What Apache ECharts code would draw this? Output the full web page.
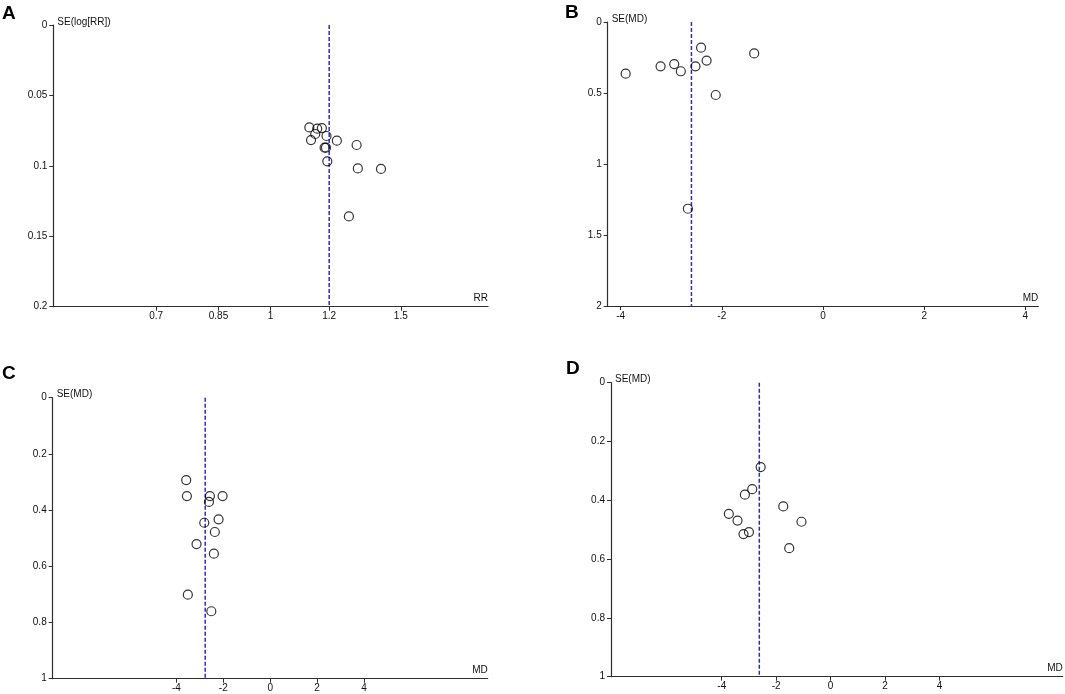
<!DOCTYPE html>
<html lang="en">
    <head>
        <meta charset="UTF-8">
        <title>Funnel plots</title>
        <script src="https://cdn.jsdelivr.net/npm/echarts@6/dist/echarts.min.js"></script>
        <style>
            html, body { margin: 0; padding: 0; background: #fff; }
            #chart { width: 1065px; height: 694px; }
        </style>
    </head>
    <body>
        <div id="chart"></div>
        <script>
            // panel A: risk ratio vs SE(log RR)
            var aRR = [1.128, 1.156, 1.173, 1.149, 1.190, 1.134, 1.229, 1.307, 1.183, 1.188, 1.193, 1.312, 1.410, 1.276];
            var aSE = [0.0727, 0.0736, 0.0732, 0.0774, 0.0788, 0.0817, 0.0821, 0.0852, 0.0871, 0.0871, 0.0968, 0.1018, 0.1022, 0.1359];
            var aPooled = 1.2;
            var aXTicks = [0.7, 0.85, 1, 1.2, 1.5];

            // panel B
            var bMD = [-3.90, -3.21, -2.94, -2.81, -2.52, -2.41, -2.30, -2.12, -1.36, -2.67];
            var bSE = [0.364, 0.312, 0.296, 0.347, 0.312, 0.181, 0.272, 0.514, 0.221, 1.315];
            var bPooled = -2.6;

            // panel C
            var cMD = [-3.58, -3.55, -2.57, -2.03, -2.61, -2.20, -2.81, -2.36, -3.14, -2.40, -3.51, -2.51];
            var cSE = [0.293, 0.350, 0.350, 0.350, 0.371, 0.433, 0.445, 0.478, 0.521, 0.555, 0.701, 0.760];
            var cPooled = -2.77;

            // panel D
            var dMD = [-2.57, -2.88, -3.15, -1.74, -3.74, -3.42, -1.07, -3.00, -3.20, -1.52];
            var dSE = [0.287, 0.362, 0.381, 0.421, 0.446, 0.469, 0.473, 0.508, 0.515, 0.563];
            var dPooled = -2.62;

            var mdTicks = [-4, -2, 0, 2, 4];

            var font = 'Liberation Sans';
            var lineCol = '#2e2e2e';
            var txtCol = '#111';

            function xAxisOf(idx, min, max, ticks, name, fmt) {
                return {
                    type: 'value', gridIndex: idx, min: min, max: max,
                    name: name, nameLocation: 'end', nameGap: 0,
                    nameTextStyle: { fontFamily: font, fontSize: 10, color: txtCol, align: 'right', verticalAlign: 'bottom', padding: [0, 0, 3, 0] },
                    splitLine: { show: false },
                    axisLine: { onZero: false, lineStyle: { color: lineCol, width: 1.2 } },
                    axisTick: { length: 4, customValues: ticks, lineStyle: { color: lineCol } },
                    axisLabel: { customValues: ticks, margin: 5, fontFamily: font, fontSize: 10, color: txtCol, formatter: fmt }
                };
            }

            function yAxisOf(idx, max, interval, name) {
                return {
                    type: 'value', gridIndex: idx, min: 0, max: max, interval: interval, inverse: true,
                    name: name, nameLocation: 'start', nameGap: 2,
                    nameTextStyle: { fontFamily: font, fontSize: 10, color: txtCol, align: 'left', verticalAlign: 'bottom', padding: [0, 0, -4, 4] },
                    splitLine: { show: false },
                    axisLine: { onZero: false, lineStyle: { color: lineCol, width: 1.2 } },
                    axisTick: { length: 4, lineStyle: { color: lineCol } },
                    axisLabel: { margin: 6, fontFamily: font, fontSize: 10, color: txtCol }
                };
            }

            function pts(xs, ys, tf) {
                return xs.map(function (v, i) { return [tf ? tf(v) : v, ys[i]]; });
            }

            function scatterOf(idx, data) {
                return {
                    type: 'scatter', xAxisIndex: idx, yAxisIndex: idx, data: data,
                    symbol: 'circle', symbolSize: 9, z: 3,
                    itemStyle: { color: 'rgba(255,255,255,0)', borderColor: '#000', borderWidth: 1.2 }
                };
            }

            function pooledOf(idx, x, ymax) {
                return {
                    type: 'line', xAxisIndex: idx, yAxisIndex: idx, data: [[x, 0], [x, ymax]],
                    symbol: 'none', z: 2,
                    lineStyle: { color: '#2626f0', width: 1.5, type: [4, 2] }
                };
            }

            var chart = echarts.init(document.getElementById('chart'), null, { renderer: 'canvas' });

            chart.setOption({
                backgroundColor: '#fff',
                animation: false,
                grid: [
                    { left: 53.3, top: 25, width: 434.7, height: 281.7, outerBoundsMode: 'none' },
                    { left: 607.7, top: 22, width: 430.6, height: 284, outerBoundsMode: 'none' },
                    { left: 52.7, top: 397.7, width: 435, height: 281, outerBoundsMode: 'none' },
                    { left: 611, top: 382.7, width: 451.7, height: 294, outerBoundsMode: 'none' }
                ],
                xAxis: [
                    xAxisOf(0, -0.677, 0.677, aXTicks.map(Math.log), 'RR', function (v) { return String(+Math.exp(v).toFixed(2)); }),
                    xAxisOf(1, -4.255, 4.255, mdTicks, 'MD'),
                    xAxisOf(2, -9.27, 9.27, mdTicks, 'MD'),
                    xAxisOf(3, -8.07, 8.53, mdTicks, 'MD')
                ],
                yAxis: [
                    yAxisOf(0, 0.2, 0.05, 'SE(log[RR])'),
                    yAxisOf(1, 2, 0.5, 'SE(MD)'),
                    yAxisOf(2, 1, 0.2, 'SE(MD)'),
                    yAxisOf(3, 1, 0.2, 'SE(MD)')
                ],
                graphic: [
                    { type: 'text', left: 2, top: 4, style: { text: 'A', font: 'bold 19px "Liberation Sans"', fill: '#000' } },
                    { type: 'text', left: 565, top: 3, style: { text: 'B', font: 'bold 19px "Liberation Sans"', fill: '#000' } },
                    { type: 'text', left: 2, top: 364, style: { text: 'C', font: 'bold 19px "Liberation Sans"', fill: '#000' } },
                    { type: 'text', left: 566, top: 359, style: { text: 'D', font: 'bold 19px "Liberation Sans"', fill: '#000' } }
                ],
                series: [
                    pooledOf(0, Math.log(aPooled), 0.2),
                    scatterOf(0, pts(aRR, aSE, Math.log)),
                    pooledOf(1, bPooled, 2),
                    scatterOf(1, pts(bMD, bSE)),
                    pooledOf(2, cPooled, 1),
                    scatterOf(2, pts(cMD, cSE)),
                    pooledOf(3, dPooled, 1),
                    scatterOf(3, pts(dMD, dSE))
                ]
            });
        </script>
    </body>
</html>
